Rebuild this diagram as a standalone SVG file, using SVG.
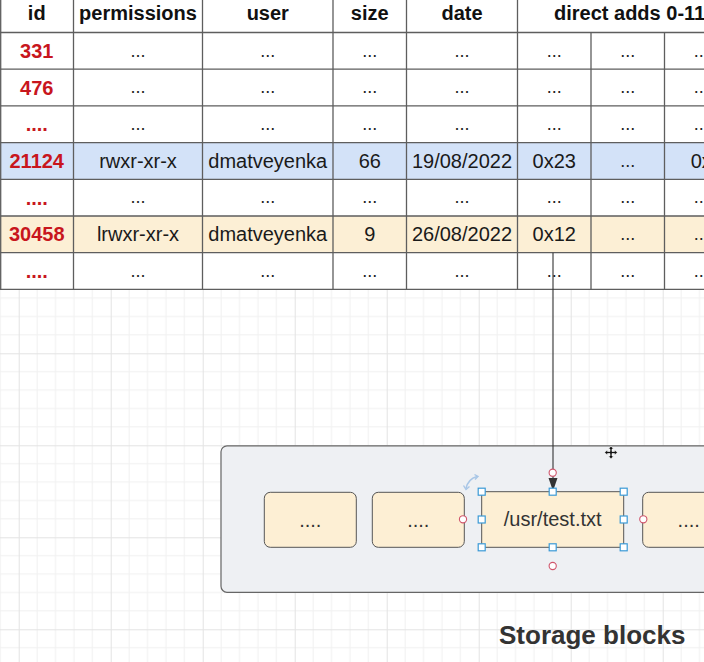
<svg xmlns="http://www.w3.org/2000/svg" width="704" height="662" viewBox="0 0 704 662">
<defs>
<pattern id="grid" patternUnits="userSpaceOnUse" x="18.7" y="77.3" width="92" height="92">
<path d="M18.4 0V92M36.8 0V92M55.2 0V92M73.6 0V92M0 18.4H92M0 36.8H92M0 55.2H92M0 73.6H92" stroke="#f0f0f0" stroke-width="1" fill="none"/>
<path d="M0.5 0V92M0 0.5H92" stroke="#e3e3e3" stroke-width="1" fill="none"/>
</pattern>
<marker id="arr" markerWidth="14" markerHeight="10" refX="13" refY="4.5" orient="auto" markerUnits="userSpaceOnUse" viewBox="0 0 14 10">
<path d="M0 0L13 4.5L0 9Z" fill="#333"/>
</marker>
<style>
.h{font-family:"Liberation Sans",Arial,sans-serif;font-size:20px;font-weight:bold;fill:#111;text-anchor:middle}
.t{font-family:"Liberation Sans",Arial,sans-serif;font-size:20px;fill:#1a1a1a;text-anchor:middle}
.d{font-family:"Liberation Sans",Arial,sans-serif;font-size:18px;fill:#222;text-anchor:middle}
.r{font-family:"Liberation Sans",Arial,sans-serif;font-size:20px;font-weight:bold;fill:#c8161d;text-anchor:middle}
.ln{stroke:#5e5e5e;stroke-width:1.3;fill:none}
.blk{fill:#fdefd4;stroke:#555;stroke-width:1}
.bt{font-family:"Liberation Sans",Arial,sans-serif;font-size:20px;fill:#333;text-anchor:middle}
.hd{fill:#fff;stroke:#3b9ad6;stroke-width:1.2}
.cp{fill:#fff;stroke:#d0566c;stroke-width:1.1}
</style>
</defs>
<rect x="0" y="0" width="704" height="662" fill="#fff"/>
<rect x="0" y="0" width="704" height="662" fill="url(#grid)"/>

<g id="inode-table">
<rect x="0" y="0" width="704" height="289.4" fill="#fff"/>
<rect x="0" y="142.6" width="704" height="36.7" fill="#d3e2f8"/>
<rect x="0" y="216" width="704" height="36.7" fill="#fcefd5"/>
<path class="ln" d="M0 32.5H704M0 69.2H704M0 105.9H704M0 142.6H704M0 179.3H704M0 216H704M0 252.7H704M0 289.4H704"/>
<path class="ln" d="M0.7 0V289.4M73.5 0V289.4M202.5 0V289.4M333 0V289.4M406.5 0V289.4M517.5 0V289.4M591 32.5V289.4M664.5 32.5V289.4"/>
<g id="header">
<text class="h" x="36.75" y="19.5">id</text>
<text class="h" x="138" y="19.5">permissions</text>
<text class="h" x="267.75" y="19.5">user</text>
<text class="h" x="369.75" y="19.5">size</text>
<text class="h" x="462" y="19.5">date</text>
<text class="h" x="554" y="19.5" style="text-anchor:start">direct adds 0-11</text>
</g>
<g id="row-331">
<text class="r" x="36.75" y="57.8">331</text>
<text class="d" x="138" y="56.5">...</text><text class="d" x="267.75" y="56.5">...</text><text class="d" x="369.75" y="56.5">...</text><text class="d" x="462" y="56.5">...</text><text class="d" x="554.25" y="56.5">...</text><text class="d" x="627.75" y="56.5">...</text><text class="d" x="701.25" y="56.5">...</text>
</g>
<g id="row-476">
<text class="r" x="36.75" y="94.5">476</text>
<text class="d" x="138" y="93.2">...</text><text class="d" x="267.75" y="93.2">...</text><text class="d" x="369.75" y="93.2">...</text><text class="d" x="462" y="93.2">...</text><text class="d" x="554.25" y="93.2">...</text><text class="d" x="627.75" y="93.2">...</text><text class="d" x="701.25" y="93.2">...</text>
</g>
<g id="row-gap1">
<text class="r" x="36.75" y="131.2">....</text>
<text class="d" x="138" y="129.9">...</text><text class="d" x="267.75" y="129.9">...</text><text class="d" x="369.75" y="129.9">...</text><text class="d" x="462" y="129.9">...</text><text class="d" x="554.25" y="129.9">...</text><text class="d" x="627.75" y="129.9">...</text><text class="d" x="701.25" y="129.9">...</text>
</g>
<g id="row-21124">
<text class="r" x="36.75" y="167.9">21124</text>
<text class="t" x="138" y="167.9">rwxr-xr-x</text>
<text class="t" x="267.75" y="167.9">dmatveyenka</text>
<text class="t" x="369.75" y="167.9">66</text>
<text class="t" x="462" y="167.9">19/08/2022</text>
<text class="t" x="554.25" y="167.9">0x23</text>
<text class="d" x="627.75" y="166.6">...</text>
<text class="t" x="701.25" y="167.9">0x</text>
</g>
<g id="row-gap2">
<text class="r" x="36.75" y="204.6">....</text>
<text class="d" x="138" y="203.3">...</text><text class="d" x="267.75" y="203.3">...</text><text class="d" x="369.75" y="203.3">...</text><text class="d" x="462" y="203.3">...</text><text class="d" x="554.25" y="203.3">...</text><text class="d" x="627.75" y="203.3">...</text><text class="d" x="701.25" y="203.3">...</text>
</g>
<g id="row-30458">
<text class="r" x="36.75" y="241.3">30458</text>
<text class="t" x="138" y="241.3">lrwxr-xr-x</text>
<text class="t" x="267.75" y="241.3">dmatveyenka</text>
<text class="t" x="369.75" y="241.3">9</text>
<text class="t" x="462" y="241.3">26/08/2022</text>
<text class="t" x="554.25" y="241.3">0x12</text>
<text class="d" x="627.75" y="240">...</text>
<text class="d" x="701.25" y="240">...</text>
</g>
<g id="row-gap3">
<text class="r" x="36.75" y="278">....</text>
<text class="d" x="138" y="276.7">...</text><text class="d" x="267.75" y="276.7">...</text><text class="d" x="369.75" y="276.7">...</text><text class="d" x="462" y="276.7">...</text><text class="d" x="554.25" y="276.7">...</text><text class="d" x="627.75" y="276.7">...</text><text class="d" x="701.25" y="276.7">...</text>
</g>
</g>

<g id="storage-container">
<rect x="221" y="445.8" width="500" height="146.5" rx="6" fill="#eef0f3" stroke="#666" stroke-width="1.2"/>
</g>
<g id="block-1">
<rect class="blk" x="264.3" y="492.3" width="92" height="55" rx="6"/>
<text class="bt" x="310.3" y="527">....</text>
</g>
<g id="block-2">
<rect class="blk" x="372.3" y="492.3" width="92" height="55" rx="6"/>
<text class="bt" x="418.3" y="527">....</text>
</g>
<g id="block-3">
<rect class="blk" x="481.7" y="491.7" width="142" height="55.6" rx="2" stroke="#3b9ad6" stroke-width="1.3"/>
<text class="bt" x="552.7" y="526">/usr/test.txt</text>
</g>
<g id="block-4">
<rect class="blk" x="642.7" y="492.3" width="92" height="55" rx="6"/>
<text class="bt" x="688.7" y="527">....</text>
</g>

<g id="connectors">
<path d="M553 252.7V491" stroke="#333" stroke-width="1.1" fill="none" marker-end="url(#arr)"/>
</g>

<g id="selection-overlay">
<rect class="hd" x="478.2" y="488.2" width="7" height="7"/>
<rect class="hd" x="549.2" y="488.2" width="7" height="7"/>
<rect class="hd" x="620.2" y="488.2" width="7" height="7"/>
<rect class="hd" x="478.2" y="516" width="7" height="7"/>
<rect class="hd" x="620.2" y="516" width="7" height="7"/>
<rect class="hd" x="478.2" y="543.8" width="7" height="7"/>
<rect class="hd" x="549.2" y="543.8" width="7" height="7"/>
<rect class="hd" x="620.2" y="543.8" width="7" height="7"/>
<circle class="cp" cx="552.7" cy="472.7" r="3.6"/>
<circle class="cp" cx="552.7" cy="566" r="3.6"/>
<circle class="cp" cx="463" cy="519.3" r="3.6"/>
<circle class="cp" cx="643.3" cy="519.3" r="3.6"/>
<path d="M466 488.5Q468 479 477 476.5" stroke="#a8c6e6" stroke-width="1.6" fill="none"/>
<path d="M463.5 485.5L466 489.5L469.5 486.5M474.5 474.5L478 476.5L475 479.5" stroke="#a8c6e6" stroke-width="1.4" fill="none"/>
<path d="M611 446L613.5 449H612V451.5H614.5V450L617.5 452.5L614.5 455V453.5H612V456H613.5L611 459L608.5 456H610V453.5H607.5V455L604.5 452.5L607.5 450V451.5H610V449H608.5Z" fill="#111" stroke="#fff" stroke-width="0.6"/>
</g>

<text x="499" y="644" style="font-family:'Liberation Sans',Arial,sans-serif;font-size:26px;font-weight:bold;fill:#333">Storage blocks</text>
</svg>
